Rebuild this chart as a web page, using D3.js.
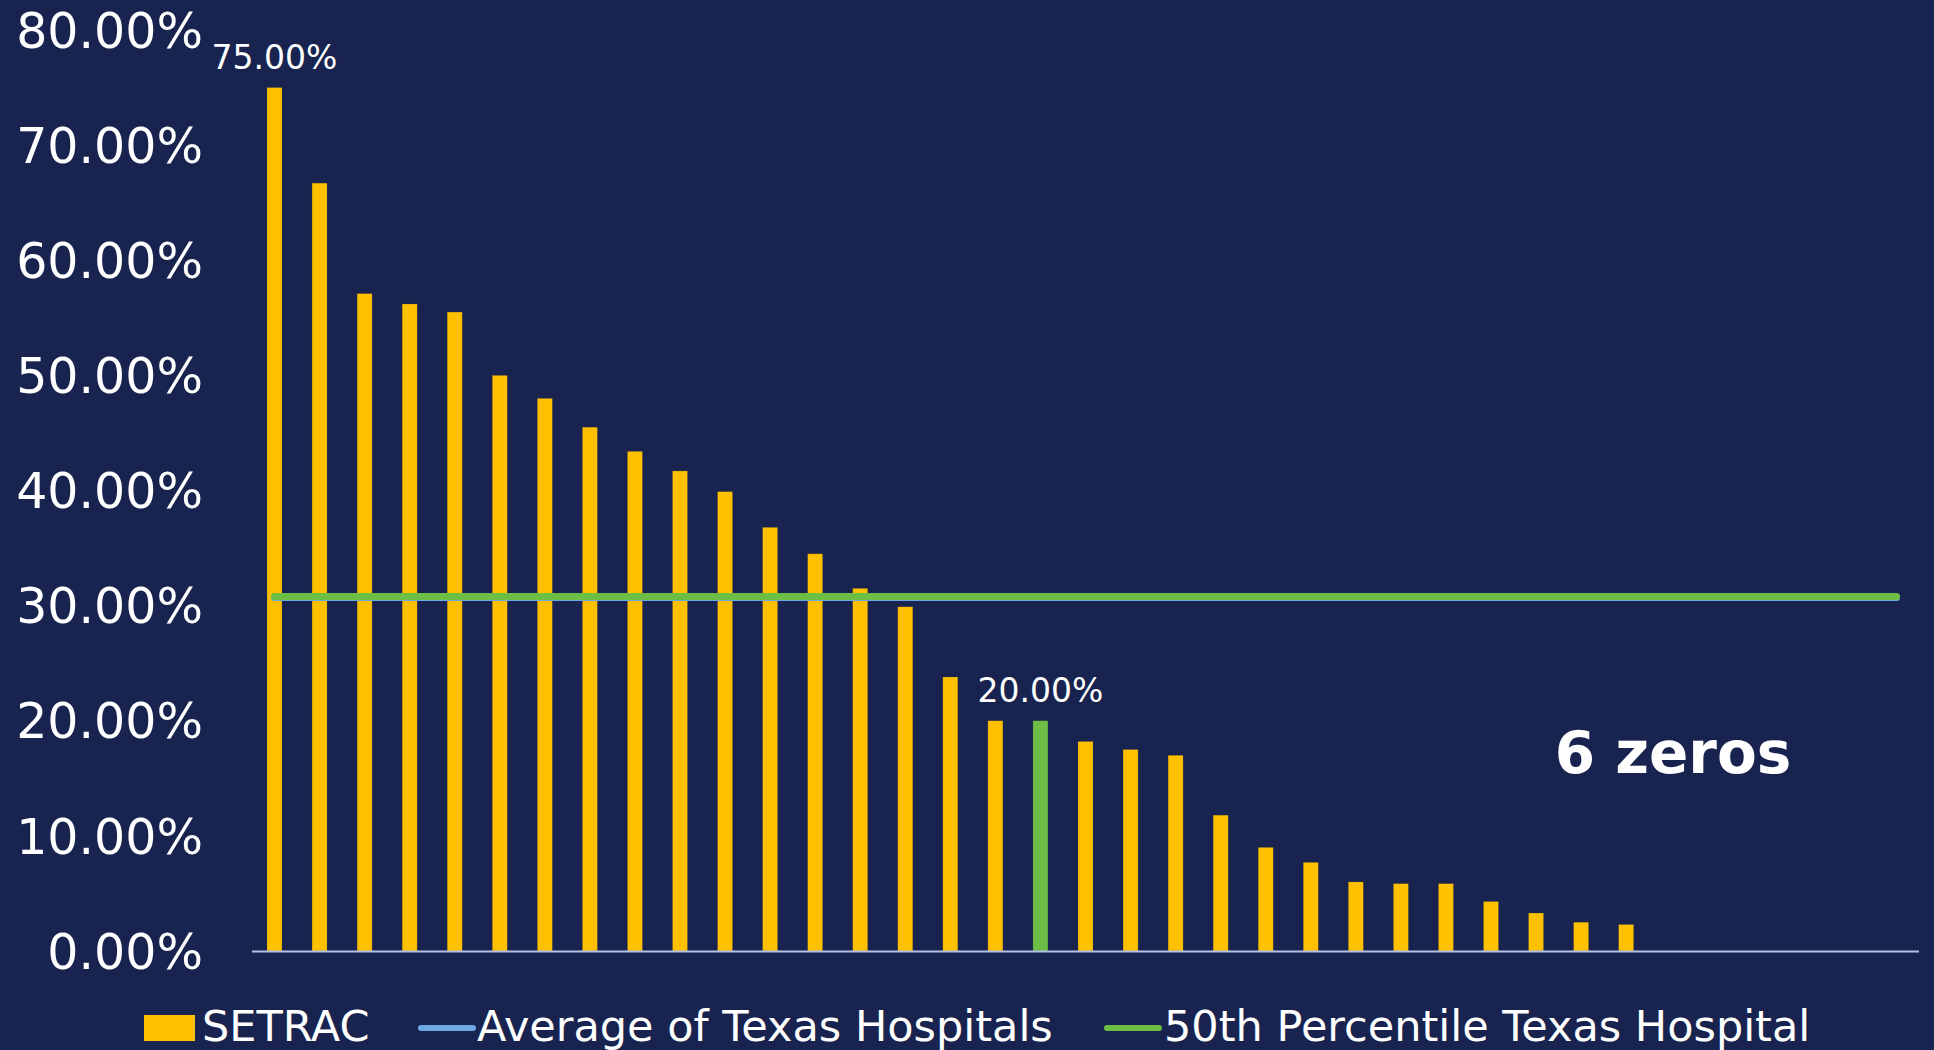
<!DOCTYPE html>
<html>
<head>
<meta charset="utf-8">
<script src="https://cdn.jsdelivr.net/npm/d3@7"></script>
<style>
  html, body { margin: 0; padding: 0; background: #18244F; }
  svg { display: block; }
  text { font-family: "DejaVu Sans", Verdana, sans-serif; fill: #ffffff; }
</style>
</head>
<body>
<script>
// ---- data ----
const categories = d3.range(1, 38).map(i => "H" + i);
const setracValues = [75.0, 66.7, 57.1, 56.2, 55.5, 50.0, 48.0, 45.5, 43.4, 41.7, 39.9, 36.8, 34.5, 31.5, 29.9,
  23.8, 20.0, 20.0, 18.2, 17.5, 17.0, 11.8, 9.0, 7.7, 6.0, 5.85, 5.85, 4.3, 3.3, 2.5, 2.3,
  0, 0, 0, 0, 0, 0];
const highlightIndex = 17;          // bar shown in green
const averageTexas = 30.7;          // Average of Texas Hospitals
const percentile50Texas = 30.8;     // 50th Percentile Texas Hospital
const yTicks = [0, 10, 20, 30, 40, 50, 60, 70, 80];
const labelledBars = [0, 17];
const legendItems = ["SETRAC", "Average of Texas Hospitals", "50th Percentile Texas Hospital"];
const annotation = "6 zeros";

// ---- layout ----
const W = 1934, H = 1050;
const colors = { bg: "#18244F", bar: "#FFC000", green: "#6DBE45", blue: "#6CA8E4", axis: "#B4C0E6" };

const svg = d3.select("body").append("svg").attr("width", W).attr("height", H);
svg.append("rect").attr("width", W).attr("height", H).attr("fill", colors.bg);

const x = d3.scaleBand().domain(categories).range([252, 1919]).paddingInner(0.667).paddingOuter(0.333);
const y = d3.scaleLinear().domain([0, 80]).range([951, 30]);

// y tick labels
const yAxis = d3.axisLeft(y).tickValues(yTicks).tickSize(0).tickPadding(0)
  .tickFormat(d => d.toFixed(2) + "%");
const yg = svg.append("g").attr("transform", "translate(203,0)").call(yAxis);
yg.select(".domain").remove();
yg.selectAll("text").attr("font-size", 49).attr("fill", "#fff")
  .attr("font-family", "'DejaVu Sans', Verdana, sans-serif").attr("dy", "0.35em");

// bars
svg.append("g").selectAll("rect").data(setracValues).join("rect")
  .attr("x", (d, i) => x(categories[i]))
  .attr("width", x.bandwidth())
  .attr("y", d => y(d))
  .attr("height", d => y(0) - y(d))
  .attr("fill", (d, i) => i === highlightIndex ? colors.green : colors.bar)
  .attr("stroke", "rgba(60,60,60,0.35)").attr("stroke-width", 0.6);

// x axis line
svg.append("line").attr("x1", 252).attr("x2", 1919).attr("y1", y(0) + 0.5).attr("y2", y(0) + 0.5)
  .attr("stroke", colors.axis).attr("stroke-width", 2);

// reference lines
const cx = c => x(c) + x.bandwidth() / 2;
const lineGen = v => d3.line().x(d => cx(d)).y(() => y(v))([categories[0], categories[categories.length - 1]]);
svg.append("path").attr("d", lineGen(averageTexas)).attr("stroke", colors.blue)
  .attr("stroke-width", 7).attr("stroke-linecap", "round").attr("fill", "none");
svg.append("path").attr("d", lineGen(percentile50Texas)).attr("stroke", colors.green)
  .attr("stroke-width", 7).attr("stroke-linecap", "round").attr("fill", "none");

// data labels
svg.append("g").selectAll("text").data(labelledBars).join("text")
  .attr("x", i => cx(categories[i]))
  .attr("y", i => y(setracValues[i]) - 19)
  .attr("text-anchor", "middle").attr("font-size", 33)
  .text(i => setracValues[i].toFixed(2) + "%");

// annotation
svg.append("text").attr("x", 1673).attr("y", 773).attr("text-anchor", "middle")
  .attr("font-size", 58).attr("font-weight", "bold").text(annotation);

// legend
const lg = svg.append("g");
const legendY = 1028;
lg.append("rect").attr("x", 144).attr("y", 1015).attr("width", 51).attr("height", 26).attr("fill", colors.bar);
lg.append("text").attr("x", 202).attr("y", 1041).attr("font-size", 43).text(legendItems[0]);
lg.append("line").attr("x1", 421).attr("x2", 473).attr("y1", legendY).attr("y2", legendY)
  .attr("stroke", colors.blue).attr("stroke-width", 6).attr("stroke-linecap", "round");
lg.append("text").attr("x", 477).attr("y", 1041).attr("font-size", 43).text(legendItems[1]);
lg.append("line").attr("x1", 1107).attr("x2", 1159).attr("y1", legendY).attr("y2", legendY)
  .attr("stroke", colors.green).attr("stroke-width", 6).attr("stroke-linecap", "round");
lg.append("text").attr("x", 1164).attr("y", 1041).attr("font-size", 43).text(legendItems[2]);
</script>
</body>
</html>
